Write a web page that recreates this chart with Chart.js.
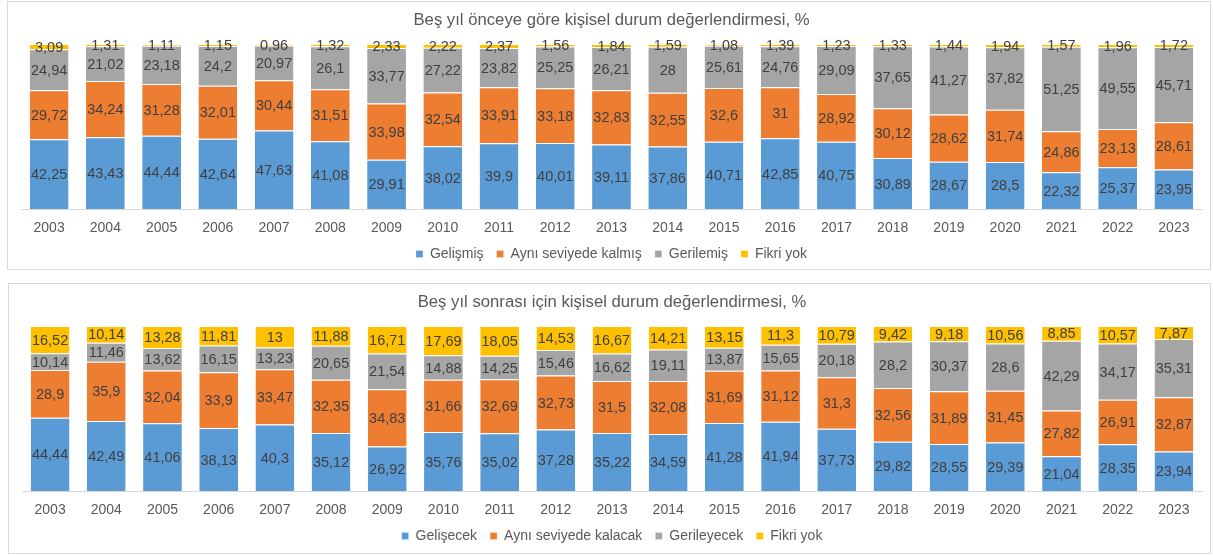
<!DOCTYPE html>
<html>
<head>
<meta charset="utf-8">
<script src="https://cdn.jsdelivr.net/npm/chart.js@4.4.1/dist/chart.umd.min.js"></script>
<style>
  html, body { margin: 0; padding: 0; background: #fff; }
  body { width: 1213px; height: 556px; position: relative; overflow: hidden; }
  .panel { position: absolute; box-sizing: border-box; border: 1px solid #d9d9d9; background: #fff; }
  #p1 { left: 7px; top: 1px; width: 1204px; height: 269px; }
  #p2 { left: 8px; top: 283px; width: 1203px; height: 271px; }
  canvas { display: block; }
</style>
</head>
<body>
<div class="panel" id="p1"><canvas id="c1" width="1202" height="267"></canvas></div>
<div class="panel" id="p2"><canvas id="c2" width="1201" height="267"></canvas></div>
<script>
const years = ["2003","2004","2005","2006","2007","2008","2009","2010","2011","2012","2013","2014","2015","2016","2017","2018","2019","2020","2021","2022","2023"];

// Beş yıl önceye göre
const gelismis  = [42.25,43.43,44.44,42.64,47.63,41.08,29.91,38.02,39.9,40.01,39.11,37.86,40.71,42.85,40.75,30.89,28.67,28.5,22.32,25.37,23.95];
const ayniKalmis = [29.72,34.24,31.28,32.01,30.44,31.51,33.98,32.54,33.91,33.18,32.83,32.55,32.6,31,28.92,30.12,28.62,31.74,24.86,23.13,28.61];
const gerilemis = [24.94,21.02,23.18,24.2,20.97,26.1,33.77,27.22,23.82,25.25,26.21,28,25.61,24.76,29.09,37.65,41.27,37.82,51.25,49.55,45.71];
const fikriYok1 = [3.09,1.31,1.11,1.15,0.96,1.32,2.33,2.22,2.37,1.56,1.84,1.59,1.08,1.39,1.23,1.33,1.44,1.94,1.57,1.96,1.72];

// Beş yıl sonrası için
const gelisecek = [44.44,42.49,41.06,38.13,40.3,35.12,26.92,35.76,35.02,37.28,35.22,34.59,41.28,41.94,37.73,29.82,28.55,29.39,21.04,28.35,23.94];
const ayniKalacak = [28.9,35.9,32.04,33.9,33.47,32.35,34.83,31.66,32.69,32.73,31.5,32.08,31.69,31.12,31.3,32.56,31.89,31.45,27.82,26.91,32.87];
const gerileyecek = [10.14,11.46,13.62,16.15,13.23,20.65,21.54,14.88,14.25,15.46,16.62,19.11,13.87,15.65,20.18,28.2,30.37,28.6,42.29,34.17,35.31];
const fikriYok2 = [16.52,10.14,13.28,11.81,13,11.88,16.71,17.69,18.05,14.53,16.67,14.21,13.15,11.3,10.79,9.42,9.18,10.56,8.85,10.57,7.87];

const COLORS = ['#5B9BD5', '#ED7D31', '#A5A5A5', '#FFC000'];
const FONT = '"Liberation Sans", Arial, sans-serif';

const labelPlugin = {
  id: 'segLabels',
  afterDatasetsDraw(chart) {
    const ctx = chart.ctx;
    ctx.save();
    ctx.font = '14.5px ' + FONT;
    ctx.fillStyle = '#404040';
    ctx.textAlign = 'center';
    ctx.textBaseline = 'middle';
    chart.data.datasets.forEach((ds, i) => {
      const meta = chart.getDatasetMeta(i);
      meta.data.forEach((bar, j) => {
        const p = bar.getProps(['x', 'y', 'base'], true);
        const v = ds.data[j];
        ctx.fillText(String(v).replace('.', ','), p.x, (p.y + p.base) / 2 + 1);
      });
    });
    ctx.restore();
  }
};

function makeChart(id, title, names, series) {
  return new Chart(document.getElementById(id), {
    type: 'bar',
    data: {
      labels: years,
      datasets: series.map((d, i) => ({
        label: names[i],
        data: d,
        backgroundColor: COLORS[i],
        borderColor: '#ffffff',
        borderWidth: { top: 1, bottom: 0, left: 0, right: 0 },
        borderSkipped: false,
        categoryPercentage: 1,
        barPercentage: 0.69
      }))
    },
    options: {
      responsive: false,
      animation: false,
      layout: { padding: { left: 13, right: 8, top: 2, bottom: -2 } },
      plugins: {
        title: {
          display: true,
          text: title,
          color: '#595959',
          font: { family: FONT, size: 16.7, weight: 'normal' },
          padding: { top: 6, bottom: 14 }
        },
        legend: {
          position: 'bottom',
          labels: {
            color: '#595959',
            font: { family: FONT, size: 14 },
            usePointStyle: true,
            pointStyle: 'rect',
            boxWidth: 7,
            boxHeight: 7,
            padding: 13
          }
        },
        tooltip: { enabled: false }
      },
      scales: {
        x: {
          stacked: true,
          grid: { display: false, drawTicks: false, tickLength: 0 },
          border: { display: true, color: '#d9d9d9', width: 1 },
          ticks: { color: '#595959', font: { family: FONT, size: 14, lineHeight: 1 }, padding: 12, maxRotation: 0 },
          afterFit(scale) { scale.height -= 13; }
        },
        y: {
          stacked: true,
          display: false,
          min: 0,
          max: 100
        }
      }
    },
    plugins: [labelPlugin]
  });
}

makeChart('c1', 'Beş yıl önceye göre kişisel durum değerlendirmesi, %',
  ['Gelişmiş', 'Aynı seviyede kalmış', 'Gerilemiş', 'Fikri yok'],
  [gelismis, ayniKalmis, gerilemis, fikriYok1]);

makeChart('c2', 'Beş yıl sonrası için kişisel durum değerlendirmesi, %',
  ['Gelişecek', 'Aynı seviyede kalacak', 'Gerileyecek', 'Fikri yok'],
  [gelisecek, ayniKalacak, gerileyecek, fikriYok2]);
</script>
</body>
</html>
